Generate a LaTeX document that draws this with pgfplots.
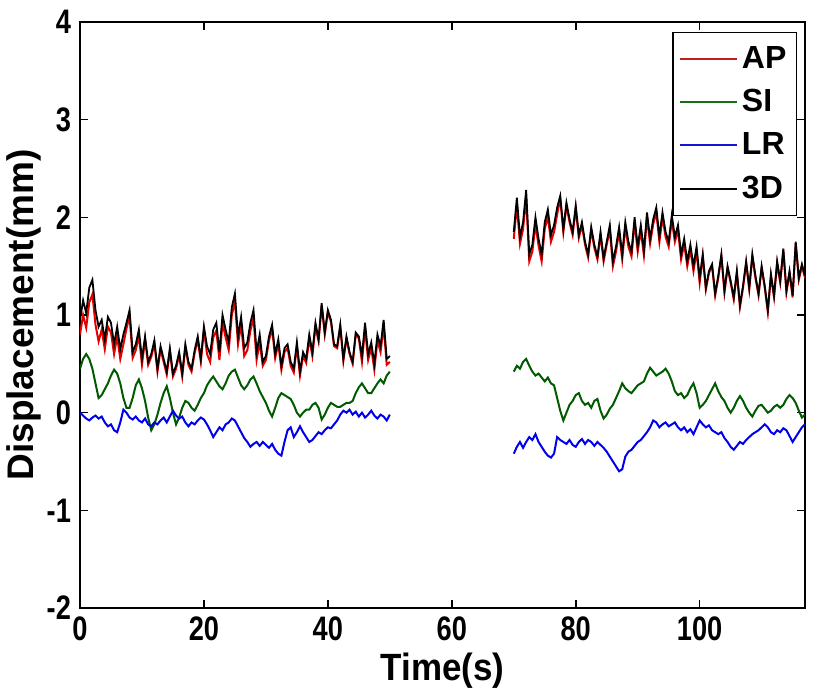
\documentclass[border=0pt]{standalone}
\usepackage{fontspec}
\setmainfont{Liberation Sans}[FakeStretch=0.8]
\newfontfamily\ylfont{Liberation Sans}[FakeStretch=1.0]
\newfontfamily\xlfont{Liberation Sans}[FakeStretch=0.92]
\newfontfamily\lgfont{Liberation Sans}[FakeStretch=1.0]
\usepackage{pgfplots}
\usepackage{pgfplotstable}
\pgfplotsset{compat=1.18}
\definecolor{apred}{RGB}{230,0,0}
\definecolor{sigreen}{RGB}{0,90,0}
\definecolor{lrblue}{RGB}{0,0,235}
\definecolor{aplg}{RGB}{190,30,30}
\definecolor{silg}{RGB}{20,110,20}
\definecolor{lrlg}{RGB}{20,20,210}
\pgfplotstableread{
t D SI LR AP
0 0.95 0.45 0.00 0.80
0.5 1.15 0.55 -0.03 1.00
1 1.02 0.60 -0.06 0.87
1.5 1.28 0.55 -0.08 1.13
2 1.36 0.45 -0.05 1.21
2.5 1.05 0.30 -0.03 0.90
3 0.88 0.15 -0.06 0.73
3.5 0.95 0.18 -0.04 0.85
4 0.75 0.24 -0.10 0.65
4.5 0.98 0.30 -0.14 0.88
5 0.92 0.38 -0.12 0.82
5.5 0.70 0.44 -0.18 0.60
6 0.88 0.40 -0.20 0.78
6.5 0.65 0.30 -0.10 0.55
7 0.80 0.15 0.03 0.70
7.5 0.92 0.05 0.00 0.86
8 1.05 0.05 -0.05 0.99
8.5 0.62 0.15 -0.07 0.56
9 0.70 0.28 -0.04 0.64
9.5 0.85 0.34 -0.08 0.79
10 0.55 0.25 -0.10 0.49
10.5 0.78 0.12 -0.06 0.75
11 0.52 -0.05 -0.12 0.49
11.5 0.60 -0.18 -0.14 0.57
12 0.74 -0.12 -0.10 0.71
12.5 0.45 -0.02 -0.12 0.42
13 0.68 0.10 -0.08 0.65
13.5 0.55 0.20 -0.05 0.52
14 0.42 0.27 -0.10 0.39
14.5 0.66 0.15 -0.04 0.63
15 0.40 0.00 0.02 0.37
15.5 0.48 -0.12 -0.03 0.45
16 0.62 -0.05 -0.06 0.59
16.5 0.40 0.05 -0.04 0.37
17 0.70 0.12 -0.10 0.67
17.5 0.52 0.10 -0.14 0.49
18 0.45 0.05 -0.10 0.42
18.5 0.64 0.02 -0.12 0.61
19 0.78 0.08 -0.08 0.75
19.5 0.55 0.15 -0.05 0.52
20 0.88 0.20 -0.07 0.85
20.5 0.68 0.28 -0.12 0.60
21 0.60 0.33 -0.18 0.52
21.5 0.85 0.37 -0.25 0.77
22 0.92 0.32 -0.20 0.84
22.5 0.62 0.27 -0.15 0.54
23 1.00 0.24 -0.18 0.92
23.5 0.85 0.30 -0.12 0.77
24 0.72 0.38 -0.10 0.64
24.5 1.08 0.42 -0.06 1.00
25 1.22 0.44 -0.08 1.14
25.5 0.78 0.36 -0.14 0.70
26 0.98 0.28 -0.20 0.90
26.5 0.66 0.24 -0.26 0.58
27 0.72 0.28 -0.30 0.64
27.5 0.92 0.34 -0.35 0.84
28 1.05 0.37 -0.32 0.97
28.5 0.62 0.30 -0.30 0.54
29 0.80 0.22 -0.34 0.72
29.5 0.52 0.16 -0.30 0.48
30 0.58 0.10 -0.33 0.54
30.5 0.78 0.02 -0.36 0.74
31 0.90 -0.04 -0.32 0.86
31.5 0.60 0.05 -0.38 0.56
32 0.75 0.15 -0.42 0.71
32.5 0.48 0.20 -0.44 0.44
33 0.66 0.18 -0.30 0.62
33.5 0.70 0.16 -0.18 0.66
34 0.52 0.14 -0.15 0.48
34.5 0.45 0.08 -0.25 0.41
35 0.72 0.00 -0.20 0.68
35.5 0.42 -0.04 -0.14 0.38
36 0.62 0.00 -0.20 0.58
36.5 0.55 0.03 -0.25 0.51
37 0.80 0.03 -0.30 0.76
37.5 0.62 0.08 -0.28 0.58
38 0.92 0.10 -0.24 0.88
38.5 0.75 0.05 -0.20 0.73
39 1.12 -0.07 -0.22 1.10
39.5 0.82 -0.02 -0.18 0.80
40 1.05 0.05 -0.15 1.03
40.5 0.95 0.10 -0.16 0.93
41 0.70 0.08 -0.12 0.68
41.5 0.68 0.06 -0.08 0.66
42 0.90 0.06 -0.02 0.88
42.5 0.55 0.08 0.02 0.53
43 0.78 0.10 0.00 0.76
43.5 0.62 0.10 0.03 0.60
44 0.52 0.12 -0.02 0.50
44.5 0.82 0.20 0.01 0.80
45 0.78 0.26 -0.04 0.76
45.5 0.58 0.30 0.00 0.52
46 0.92 0.25 -0.05 0.86
46.5 0.60 0.20 -0.02 0.54
47 0.72 0.20 0.02 0.66
47.5 0.50 0.25 -0.03 0.44
48 0.80 0.30 -0.06 0.74
48.5 0.68 0.34 -0.02 0.62
49 0.95 0.30 -0.04 0.89
49.5 0.55 0.38 -0.08 0.49
50 0.58 0.42 -0.02 0.52
60 nan nan nan nan
70 1.85 0.42 -0.42 1.78
70.5 2.20 0.48 -0.35 2.13
71 1.80 0.45 -0.30 1.73
71.5 1.95 0.52 -0.36 1.88
72 2.28 0.55 -0.30 2.21
72.5 1.62 0.48 -0.25 1.55
73 1.72 0.42 -0.28 1.65
73.5 2.00 0.38 -0.22 1.93
74 1.78 0.40 -0.30 1.71
74.5 1.62 0.36 -0.35 1.55
75 1.95 0.32 -0.40 1.88
75.5 2.08 0.36 -0.44 2.01
76 1.82 0.30 -0.46 1.75
76.5 1.92 0.28 -0.42 1.85
77 2.10 0.15 -0.25 2.03
77.5 2.22 0.02 -0.28 2.19
78 1.88 -0.08 -0.30 1.85
78.5 2.15 0.00 -0.32 2.12
79 1.98 0.08 -0.28 1.95
79.5 1.85 0.12 -0.33 1.82
80 2.12 0.18 -0.35 2.09
80.5 1.82 0.20 -0.30 1.79
81 1.95 0.12 -0.27 1.92
81.5 1.75 0.08 -0.32 1.72
82 1.62 0.10 -0.28 1.59
82.5 1.90 0.05 -0.30 1.87
83 1.72 0.12 -0.34 1.69
83.5 1.60 0.14 -0.30 1.57
84 1.85 0.02 -0.33 1.82
84.5 1.58 -0.06 -0.36 1.55
85 1.75 -0.02 -0.40 1.72
85.5 1.92 0.04 -0.45 1.87
86 1.55 0.08 -0.50 1.50
86.5 1.70 0.15 -0.55 1.65
87 1.90 0.22 -0.60 1.85
87.5 1.62 0.30 -0.58 1.57
88 1.95 0.25 -0.45 1.90
88.5 1.75 0.22 -0.40 1.70
89 1.65 0.20 -0.38 1.60
89.5 2.00 0.24 -0.34 1.95
90 1.70 0.28 -0.30 1.65
90.5 1.92 0.30 -0.28 1.87
91 1.66 0.32 -0.24 1.61
91.5 2.05 0.40 -0.20 2.00
92 1.78 0.46 -0.15 1.73
92.5 1.98 0.42 -0.08 1.93
93 2.10 0.38 -0.10 2.05
93.5 1.80 0.40 -0.15 1.75
94 2.05 0.42 -0.12 2.00
94.5 1.85 0.45 -0.10 1.80
95 1.75 0.40 -0.14 1.70
95.5 2.02 0.32 -0.12 1.97
96 1.80 0.22 -0.10 1.75
96.5 1.92 0.18 -0.15 1.87
97 1.62 0.20 -0.18 1.57
97.5 1.78 0.15 -0.15 1.73
98 1.55 0.18 -0.20 1.50
98.5 1.72 0.25 -0.17 1.67
99 1.50 0.30 -0.22 1.45
99.5 1.70 0.20 -0.15 1.65
100 1.38 0.05 -0.08 1.33
100.5 1.62 0.08 -0.12 1.60
101 1.28 0.12 -0.15 1.26
101.5 1.45 0.18 -0.13 1.43
102 1.52 0.24 -0.18 1.50
102.5 1.22 0.30 -0.20 1.20
103 1.40 0.22 -0.22 1.38
103.5 1.62 0.16 -0.20 1.60
104 1.25 0.12 -0.26 1.23
104.5 1.50 0.05 -0.30 1.48
105 1.35 0.00 -0.35 1.33
105.5 1.18 0.05 -0.38 1.16
106 1.45 0.12 -0.34 1.43
106.5 1.10 0.17 -0.30 1.08
107 1.30 0.12 -0.32 1.28
107.5 1.55 0.05 -0.28 1.53
108 1.28 0.00 -0.25 1.26
108.5 1.62 -0.04 -0.22 1.60
109 1.40 0.02 -0.20 1.38
109.5 1.22 0.07 -0.18 1.20
110 1.50 0.08 -0.15 1.48
110.5 1.30 0.04 -0.12 1.28
111 1.05 0.00 -0.15 1.03
111.5 1.42 0.02 -0.20 1.40
112 1.20 0.06 -0.22 1.18
112.5 1.55 0.08 -0.18 1.53
113 1.35 0.05 -0.20 1.33
113.5 1.68 0.08 -0.16 1.66
114 1.25 0.14 -0.18 1.23
114.5 1.45 0.18 -0.24 1.43
115 1.20 0.15 -0.30 1.18
115.5 1.75 0.10 -0.25 1.73
116 1.38 0.02 -0.20 1.36
116.5 1.52 -0.05 -0.15 1.50
117 1.40 -0.02 -0.12 1.38
}\datatable
\begin{document}
\begin{tikzpicture}
\begin{axis}[
  scale only axis,
  width=362.5pt, height=293pt,
  xmin=0, xmax=117, ymin=-2, ymax=4,
  xtick={0,20,40,60,80,100},
  ytick={-2,-1,0,1,2,3,4},
  tick align=inside,
  major tick length=4pt,
  axis line style={line width=0.8pt},
  every tick/.style={black, line width=0.8pt},
  /pgf/number format/assume math mode=true,
  ticklabel style={font=\fontsize{17}{20}\selectfont\bfseries},
  xticklabel style={yshift=-1pt},
  yticklabel style={xshift=-1pt},
  xlabel={\xlfont Time(s)},
  ylabel={\ylfont Displacement(mm)},
  xlabel style={font=\fontsize{19}{22}\selectfont\bfseries, yshift=1pt},
  ylabel style={font=\fontsize{18.5}{21}\selectfont\bfseries, yshift=-4pt},
  unbounded coords=jump,
  legend style={at={(axis description cs:0.989,0.983)}, anchor=north east,
    draw=black, line width=0.6pt, fill=white,
    font=\fontsize{16}{19}\selectfont\bfseries\lgfont,
    row sep=5pt, inner xsep=3pt, inner ysep=5pt},
  legend cell align=left,
]
\addplot[apred, line width=1pt, legend image code/.code={\draw[aplg, line width=1pt] (0cm,0cm) -- (1.0cm,0cm);}] table[x=t, y=AP] {\datatable};
\addplot[sigreen, line width=1pt, legend image code/.code={\draw[silg, line width=1pt] (0cm,0cm) -- (1.0cm,0cm);}] table[x=t, y=SI] {\datatable};
\addplot[lrblue, line width=1pt, legend image code/.code={\draw[lrlg, line width=1pt] (0cm,0cm) -- (1.0cm,0cm);}] table[x=t, y=LR] {\datatable};
\addplot[black, line width=0.9pt, legend image code/.code={\draw[black, line width=1pt] (0cm,0cm) -- (1.0cm,0cm);}] table[x=t, y=D] {\datatable};
\legend{AP, SI, LR, 3D}
\end{axis}
\pgfresetboundingbox
\path ([shift={(-40pt,-42.5pt)}]current axis.south west) rectangle ([shift={(5.5pt,11pt)}]current axis.north east);
\end{tikzpicture}
\end{document}
